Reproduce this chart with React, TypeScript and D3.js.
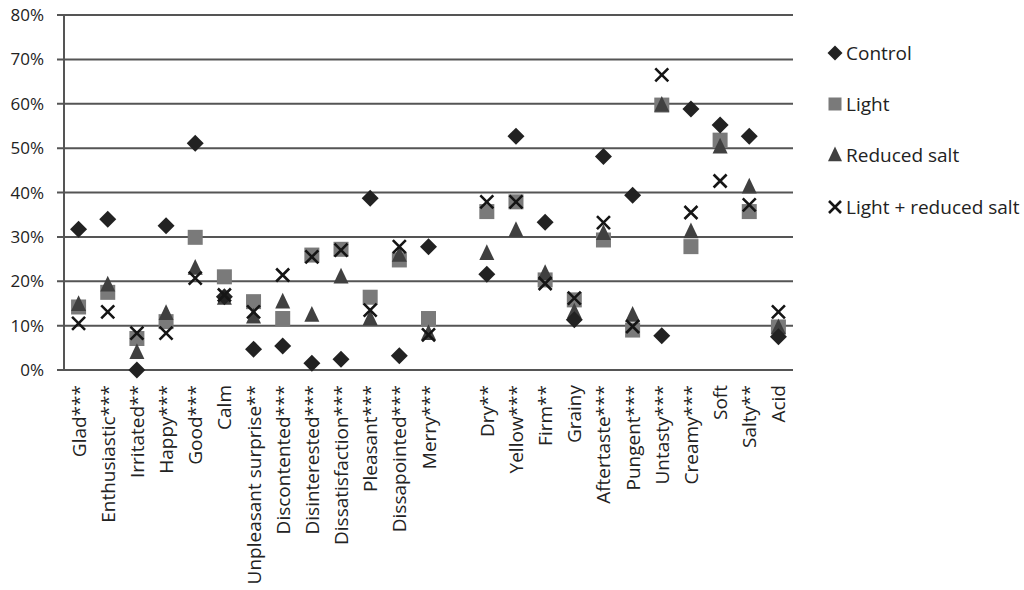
import React from "react";
import * as d3 from "d3";

const categories = [
  "Glad***", "Enthusiastic***", "Irritated**", "Happy***", "Good***", "Calm",
  "Unpleasant surprise**", "Discontented***", "Disinterested***", "Dissatisfaction***",
  "Pleasant***", "Dissapointed***", "Merry***", "",
  "Dry**", "Yellow***", "Firm**", "Grainy", "Aftertaste***", "Pungent***",
  "Untasty***", "Creamy***", "Soft", "Salty**", "Acid",
];

const control = [31.7, 34.0, 0.0, 32.5, 51.1, 16.5, 4.7, 5.4, 1.5, 2.4, 38.7, 3.2, 27.8, null,
  21.6, 52.7, 33.3, 11.3, 48.1, 39.4, 7.7, 58.8, 55.2, 52.7, 7.5];
const light = [14.2, 17.5, 7.1, 10.9, 29.9, 21.0, 15.4, 11.6, 25.9, 27.2, 16.4, 24.8, 11.6, null,
  35.7, 37.9, 20.3, 15.8, 29.3, 9.0, 59.7, 27.8, 51.8, 35.7, 9.7];
const reducedSalt = [14.8, 19.2, 4.0, 12.8, 23.0, 16.2, 12.0, 15.4, 12.4, 21.0, 11.6, 25.9, 8.3, null,
  26.3, 31.5, 21.8, 13.1, 30.8, 12.4, 59.7, 31.2, 50.3, 41.3, 9.6];
const lightReduced = [10.5, 13.1, 8.3, 8.3, 20.7, 16.9, 13.1, 21.4, 25.5, 27.0, 13.5, 27.8, 7.9, null,
  37.9, 37.9, 19.5, 16.2, 33.2, 9.8, 66.5, 35.5, 42.6, 37.2, 13.1];

const yTicks = [0, 10, 20, 30, 40, 50, 60, 70, 80];
const seriesNames = ["Control", "Light", "Reduced salt", "Light + reduced salt"];

const W = 1024;
const H = 590;
const FONT = "'Open Sans', 'DejaVu Sans', sans-serif";

export default function App() {
  const x = d3.scaleBand<string>()
    .domain(categories.map((c, i) => `${i}`))
    .range([64, 793])
    .padding(0);
  const y = d3.scaleLinear().domain([0, 80]).range([370, 15]);
  const cx = (i: number) => (x(`${i}`) as number) + x.bandwidth() / 2;

  const diamond = (px: number, py: number, r: number, key: string) => (
    <path key={key} d={`M${px},${py - r}L${px + r},${py}L${px},${py + r}L${px - r},${py}Z`} fill="#222" />
  );
  const square = (px: number, py: number, s: number, key: string) => (
    <rect key={key} x={px - s / 2} y={py - s / 2} width={s} height={s} fill="#7a7a7a" />
  );
  const triangle = (px: number, py: number, s: number, key: string) => (
    <path key={key} d={`M${px},${py - s * 0.6}L${px + s / 2},${py + s * 0.45}L${px - s / 2},${py + s * 0.45}Z`} fill="#404040" />
  );
  const cross = (px: number, py: number, r: number, key: string) => (
    <path key={key} d={`M${px - r},${py - r}L${px + r},${py + r}M${px - r},${py + r}L${px + r},${py - r}`} stroke="#151515" strokeWidth={2.6} fill="none" />
  );

  const marks: React.ReactNode[] = [];
  categories.forEach((_, i) => {
    const px = cx(i);
    if (light[i] != null) marks.push(square(px, y(light[i] as number), 15, `l${i}`));
    if (reducedSalt[i] != null) marks.push(triangle(px, y(reducedSalt[i] as number), 15, `r${i}`));
    if (control[i] != null) marks.push(diamond(px, y(control[i] as number), 8.5, `c${i}`));
    if (lightReduced[i] != null) marks.push(cross(px, y(lightReduced[i] as number), 6.5, `x${i}`));
  });

  const legendY = [53, 104, 155, 207];

  return (
    <svg width={W} height={H} style={{ position: "absolute", left: 0, top: 0, background: "#fff" }}>
      <rect x={0} y={0} width={W} height={H} fill="#fff" />
      {yTicks.map((t) => (
        <g key={t}>
          <line x1={57} x2={793} y1={y(t)} y2={y(t)} stroke="#555" strokeWidth={2} />
          <text x={44} y={y(t)} dy="0.36em" textAnchor="end" fontFamily={FONT} fontSize={17} fill="#222">{`${t}%`}</text>
        </g>
      ))}
      <line x1={64} x2={64} y1={y(80)} y2={y(0)} stroke="#555" strokeWidth={2} />
      {marks}
      {categories.map((c, i) => (
        <text key={`t${i}`} transform={`translate(${cx(i)},385) rotate(-90)`} textAnchor="end"
          dominantBaseline="central" fontFamily={FONT} fontSize={19} fill="#222">{c}</text>
      ))}
      {seriesNames.map((n, k) => {
        const lx = 835;
        const ly = legendY[k];
        let m: React.ReactNode;
        if (k === 0) m = diamond(lx, ly, 7.5, "ld");
        else if (k === 1) m = square(lx, ly, 13, "ls");
        else if (k === 2) m = triangle(lx, ly, 14, "lt");
        else m = cross(lx, ly, 6, "lx");
        return (
          <g key={n}>
            {m}
            <text x={846} y={ly} dy="0.36em" fontFamily={FONT} fontSize={19} fill="#222">{n}</text>
          </g>
        );
      })}
    </svg>
  );
}
